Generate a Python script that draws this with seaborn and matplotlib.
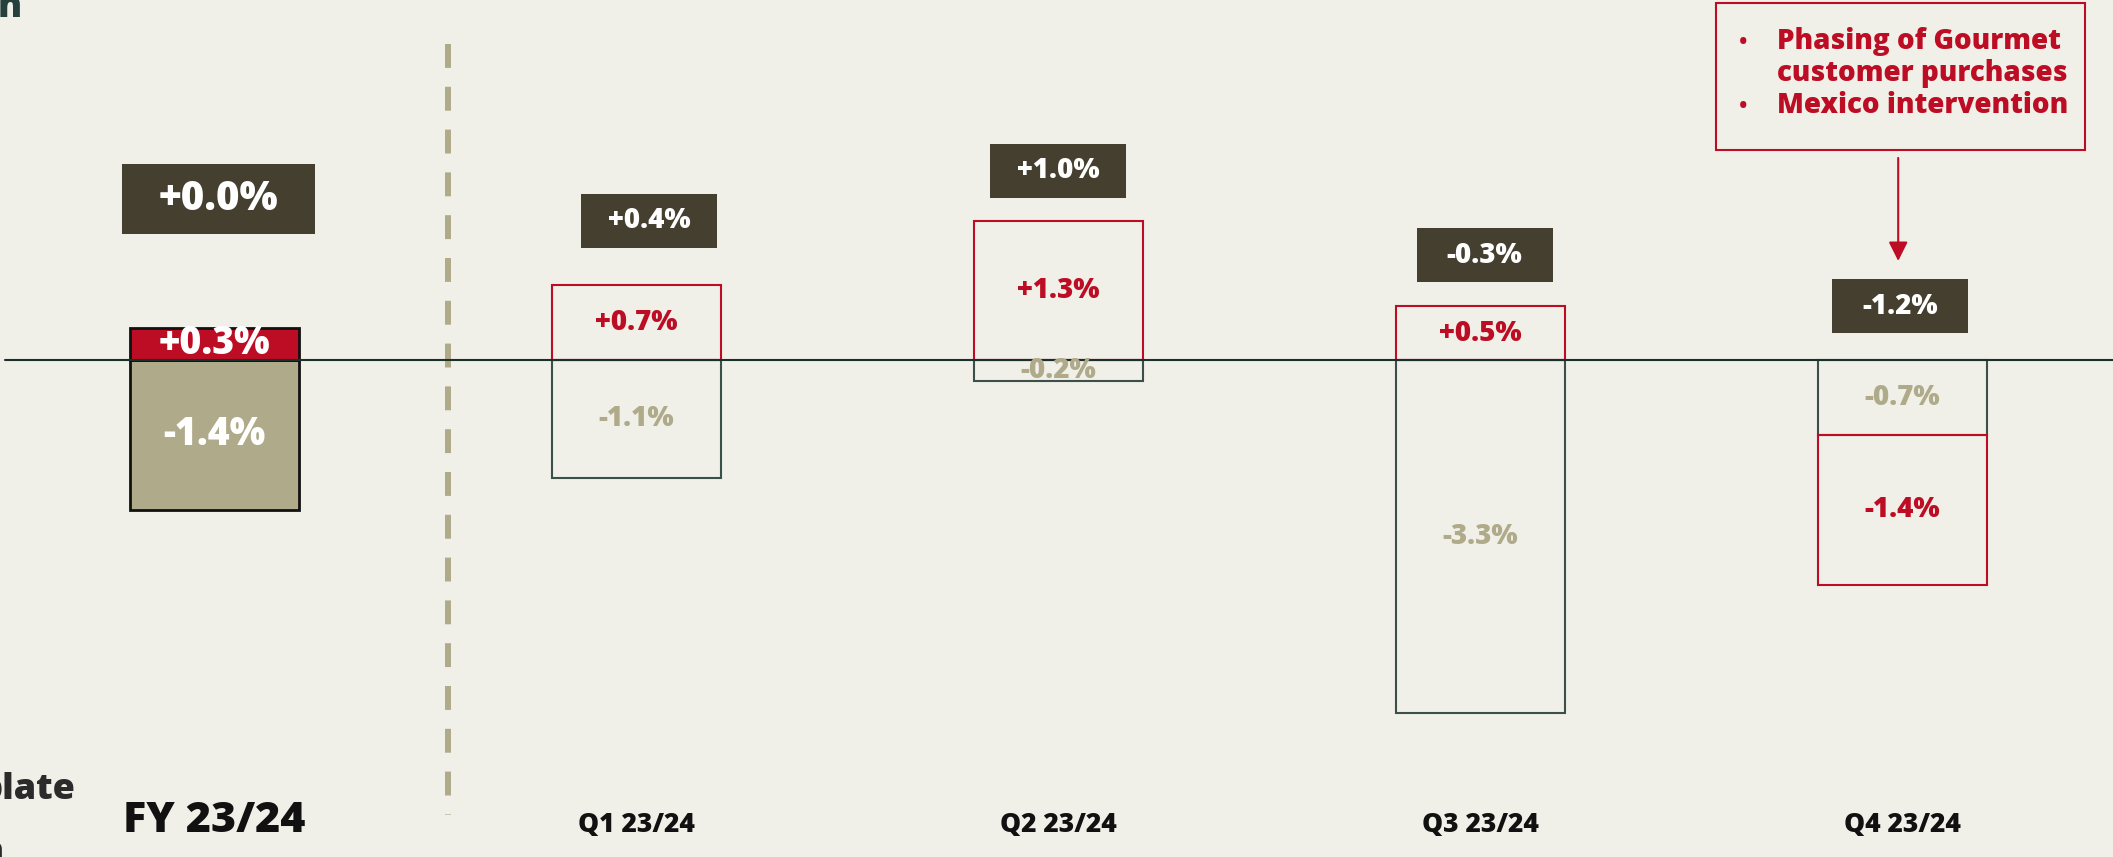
import numpy as np
import pandas as pd
import matplotlib
matplotlib.use("Agg")
import matplotlib.pyplot as plt
import seaborn as sns
from matplotlib.patches import Rectangle

# ---------------- data ----------------
periods = ["FY 23/24", "Q1 23/24", "Q2 23/24", "Q3 23/24", "Q4 23/24"]
red_component = [0.3, 0.7, 1.3, 0.5, -1.4]
tan_component = [-1.4, -1.1, -0.2, -3.3, -0.7]
totals = [0.0, 0.4, 1.0, -0.3, -1.2]
annotation_lines = ["Phasing of Gourmet", "customer purchases", "Mexico intervention"]
cut_texts = ["n", "plate", "n"]

# ---------------- style ----------------
BG = "#f0efe8"
RED = "#bd0d24"
TAN = "#afaa89"
DARK_BOX = "#443f2e"
OUTLINE = "#3b4f4b"
ZERO = "#1b302b"
WEIGHT = 800

sns.set_theme(style="white")
plt.rcParams["font.family"] = ["Open Sans", "DejaVu Sans"]
plt.rcParams["font.weight"] = "bold"

W, H = 2113, 857
fig = plt.figure(figsize=(W / 100, H / 100), dpi=100, facecolor=BG)
ax = fig.add_axes([0, 0, 1, 1])
ax.set_facecolor(BG)

# stacking: tan component starts at zero, red component stacks next in its direction
rows = []
for i, p in enumerate(periods):
    pos, neg = 0.0, 0.0
    for comp, v in (("tan", tan_component[i]), ("red", red_component[i])):
        if v >= 0:
            b = pos
            pos += v
        else:
            b = neg
            neg += v
        rows.append(dict(period=p, component=comp, value=v, bottom=b,
                         filled=(i == 0), idx=i))
df = pd.DataFrame(rows)

for (comp, filled), sub in df.groupby(["component", "filled"], sort=False):
    sub = sub.sort_values("idx")
    if filled:
        fc = RED if comp == "red" else TAN
        sns.barplot(data=sub, x="period", y="value", order=periods, width=0.4,
                    errorbar=None, color=fc, bottom=sub["bottom"].to_numpy(),
                    facecolor=fc, edgecolor="#111111", linewidth=2.0, ax=ax, zorder=2)
    else:
        ec = RED if comp == "red" else OUTLINE
        sns.barplot(data=sub, x="period", y="value", order=periods, width=0.4,
                    errorbar=None, color=ec, bottom=sub["bottom"].to_numpy(),
                    facecolor="none", edgecolor=ec, linewidth=1.5, ax=ax, zorder=2)

# segment labels
for _, r in df.iterrows():
    y = r["bottom"] + r["value"] / 2
    lab = f"{r['value']:+.1f}%"
    if r["filled"]:
        ax.text(r["idx"], y, lab, ha="center", va="center", color="white",
                fontsize=27, fontweight=WEIGHT, zorder=5)
    else:
        col = RED if r["component"] == "red" else TAN
        ax.text(r["idx"], y, lab, ha="center", va="center", color=col,
                fontsize=20, fontweight=WEIGHT, zorder=5)

# zero line
ax.axhline(0, xmin=0.0025, xmax=1, color=ZERO, lw=1.5, zorder=3)

# total boxes
label_gap = [1.2, 0.6, 0.47, 0.48, 0.5]
label_shift = [0.01, 0.03, 0.0, 0.01, -0.006]
for i, t in enumerate(totals):
    top = max(0.0, sum(v for v in (red_component[i], tan_component[i]) if v > 0))
    cy = top + label_gap[i]
    cx = i + label_shift[i]
    if i == 0:
        bw, bh, fs = 0.457, 0.654, 29
    else:
        bw, bh, fs = 0.322, 0.505, 20
    ax.add_patch(Rectangle((cx - bw / 2, cy - bh / 2), bw, bh, facecolor=DARK_BOX,
                           edgecolor="none", zorder=4))
    ax.text(cx, cy, f"{t:+.1f}%", ha="center", va="center", color="white",
            fontsize=fs, fontweight=WEIGHT, zorder=5)

# separator dashed line
ax.plot([0.553, 0.553], [2.95, -4.25], color=TAN, lw=4.3,
        ls=(0, (24 / 6, 19 / 6)), solid_capstyle="butt", zorder=1)

# category labels
for i, p in enumerate(periods):
    ax.text(i, -4.41, p, ha="center", va="baseline", color="#111111",
            fontsize=31 if i == 0 else 19, fontweight=WEIGHT)

ax.set_xlim(-0.508, 4.499)
ax.set_ylim(-4.645, 3.364)
ax.set_axis_off()

# annotation box (figure pixel coordinates)
def fx(px):
    return px / W

def fy(py):
    return 1 - py / H

fig.patches.append(Rectangle((fx(1716), fy(150)), fx(2085) - fx(1716), fy(3) - fy(150),
                             transform=fig.transFigure, facecolor="none",
                             edgecolor=RED, linewidth=1.5, zorder=6))
baselines = [49, 81, 113]
for line, b in zip(annotation_lines, baselines):
    fig.text(fx(1777), fy(b), line, ha="left", va="baseline", color=RED,
             fontsize=20, fontweight=WEIGHT)
for b in (baselines[0], baselines[2]):
    fig.text(fx(1743), fy(b), "•", ha="center", va="baseline", color=RED,
             fontsize=16, fontweight="bold")

ax.annotate("", xy=(3.99, 0.925), xytext=(3.99, 1.888),
            arrowprops=dict(arrowstyle="-|>,head_width=0.29,head_length=0.58",
                            color=RED, lw=1.5, shrinkA=0, shrinkB=0,
                            mutation_scale=20))

# partially cut texts at the left edge (cut in the original as well)
fig.text(fx(-2), fy(17), cut_texts[0], ha="left", va="baseline", color="#26403c",
         fontsize=26, fontweight=WEIGHT)
fig.text(fx(75), fy(799), cut_texts[1], ha="right", va="baseline", color="#2b2b2b",
         fontsize=26, fontweight=WEIGHT)
fig.text(fx(4), fy(862), cut_texts[2], ha="right", va="baseline", color="#2b2b2b",
         fontsize=26, fontweight=WEIGHT)

fig.savefig("out.png", dpi=100, facecolor=BG)
